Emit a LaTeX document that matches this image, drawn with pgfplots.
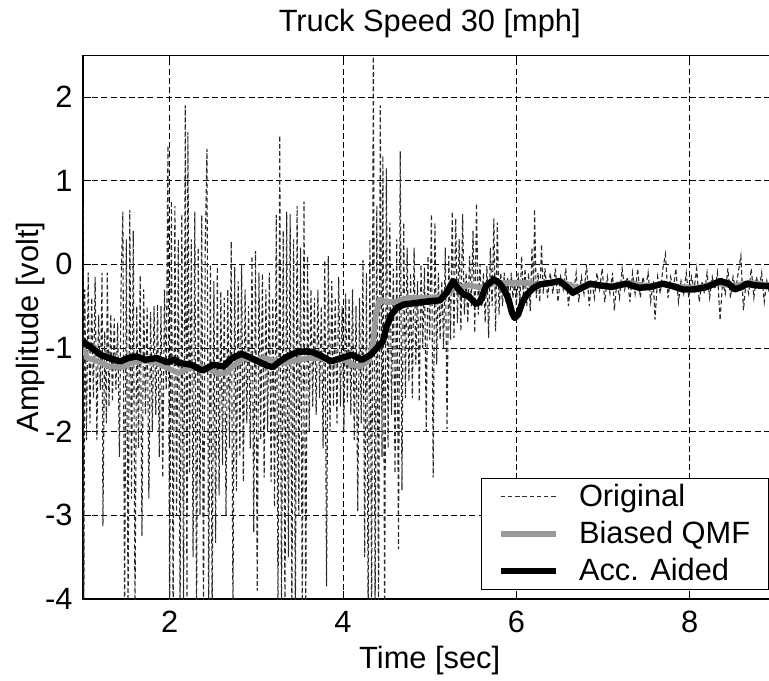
\documentclass[border=0pt]{standalone}
\usepackage{pgfplots}
\pgfplotsset{compat=1.18}
\usepackage{fontspec}
\setmainfont{Liberation Sans}
\definecolor{qmfgray}{HTML}{999999}
\definecolor{origgray}{HTML}{2A2A2A}
\begin{document}
\begin{tikzpicture}
\begin{axis}[
  at={(0,0)}, anchor=south west,
  scale only axis,
  width=346.7pt, height=271.9pt,
  xmin=1, xmax=9, ymin=-4, ymax=2.5,
  xtick={2,4,6,8}, ytick={-4,-3,-2,-1,0,1,2},
  font=\fontsize{15.4}{18}\selectfont,
  /pgf/number format/assume math mode=true,
  tick align=inside, major tick length=4pt,
  tick style={black, line width=0.5pt},
  axis line style={black, line width=0.6pt},
  grid=major,
  major grid style={black, line width=0.5pt, dash pattern=on 3pt off 1.6pt},
  xticklabel style={anchor=base, yshift=-16.5pt},
  yticklabel style={anchor=east, inner sep=0pt, xshift=-5pt},
  every axis title shift=0pt,
  title={Truck Speed 30 [mph]},
  title style={at={(axis description cs:0.5,1.0441)}, anchor=base, inner sep=0pt, yshift=0pt},
  xlabel={Time [sec]},
  xlabel style={at={(axis description cs:0.5,-0.1269)}, anchor=base, inner sep=0pt},
  ylabel={Amplitude [volt]},
  ylabel style={at={(axis description cs:-0.0649,0.5)}, anchor=base, inner sep=0pt},
  legend image code/.code={\draw[#1] (0pt,0pt) -- (27.5pt,0pt);},
  legend cell align=left,
  legend style={at={(0.574,0.0166)}, anchor=south west, draw=black, line width=0.6pt, fill=white,
    inner xsep=8pt, inner ysep=2pt, nodes={inner sep=1pt}, row sep=3.8pt,
    /tikz/every odd column/.append style={column sep=9pt},
    font=\fontsize{15.4}{18}\selectfont},
]
% Original
\addplot[origgray, line width=0.55pt, dash pattern=on 2.2pt off 1.4pt] coordinates {
(1.00,0.70) (1.01,-4.2) (1.02,-0.3) (1.04,-2.1) (1.06,-0.1) (1.08,-1.9) (1.10,-0.4) (1.12,-1.6) (1.14,-0.15) (1.16,-2.1)
(1.18,-0.6) (1.20,-1.5) (1.22,-0.1) (1.23,-3.13) (1.25,-0.8) (1.27,-1.9) (1.28,-0.1) (1.30,-1.7) (1.32,-0.6) (1.34,-1.64)
(1.36,-0.65) (1.38,-1.5) (1.40,-0.7) (1.42,-2.3) (1.44,-0.2) (1.46,0.63) (1.48,-4.2) (1.50,0.3) (1.52,-4.2) (1.54,0.65)
(1.56,-2.8) (1.58,0.40) (1.60,-4.2) (1.62,-0.5) (1.64,-2.2) (1.66,-0.13) (1.68,-3.25) (1.70,-0.3) (1.72,-1.8) (1.74,-0.5)
(1.76,-2.8) (1.78,-0.57) (1.80,-2.0) (1.82,-0.5) (1.84,-1.8) (1.86,-0.48) (1.88,-2.3) (1.90,-0.5) (1.92,-2.55) (1.94,-0.3)
(1.96,-1.5) (1.98,1.42) (2.00,-4.2) (2.02,0.76) (2.04,-4.2) (2.06,0.7) (2.08,-3.0) (2.10,0.3) (2.12,-4.2) (2.14,0.6)
(2.16,-4.2) (2.18,1.9) (2.20,-4.2) (2.21,1.58) (2.23,-2.5) (2.25,0.3) (2.27,-3.5) (2.29,0.63) (2.31,-4.2) (2.33,0.2)
(2.35,-3.0) (2.37,0.59) (2.39,-4.2) (2.41,0.2) (2.43,1.38) (2.45,-4.2) (2.47,0.0) (2.49,-4.2) (2.51,-0.2) (2.53,-3.33)
(2.55,-0.03) (2.57,-2.76) (2.59,-0.32) (2.61,-2.4) (2.63,-0.4) (2.65,-3.0) (2.67,-0.3) (2.69,-2.2) (2.71,0.27) (2.73,-4.2)
(2.75,-0.03) (2.77,-2.71) (2.79,-0.2) (2.81,-2.3) (2.83,0.0) (2.85,-2.6) (2.87,-0.3) (2.89,-1.9) (2.91,-0.5) (2.93,-2.2)
(2.95,0.1) (2.97,-3.2) (2.99,0.16) (3.01,-3.9) (3.03,-0.1) (3.05,-2.1) (3.07,-0.11) (3.09,-2.55) (3.11,-0.3) (3.13,-2.0)
(3.15,-0.1) (3.17,-2.6) (3.19,-0.4) (3.21,-2.9) (3.23,0.59) (3.25,-4.2) (3.27,1.54) (3.29,-4.2) (3.31,0.4) (3.33,-4.2)
(3.35,0.63) (3.37,-3.5) (3.39,0.6) (3.41,-4.2) (3.43,0.3) (3.45,-4.2) (3.47,0.7) (3.49,-3.0) (3.51,0.2) (3.53,-4.2)
(3.55,0.75) (3.57,-4.2) (3.59,0.1) (3.61,-2.0) (3.63,-0.3) (3.65,-1.7) (3.67,-0.4) (3.69,-1.8) (3.71,-0.3) (3.73,-1.6)
(3.75,-0.5) (3.77,-2.2) (3.79,0.05) (3.81,-3.85) (3.83,0.1) (3.85,-2.0) (3.87,-0.2) (3.89,-1.7) (3.91,-0.4) (3.93,-1.9)
(3.95,-0.15) (3.97,-1.7) (3.99,-0.5) (4.01,-2.0) (4.03,-0.35) (4.05,-1.65) (4.07,-0.4) (4.09,-1.8) (4.11,-0.3) (4.13,-2.1)
(4.15,-0.5) (4.17,-2.95) (4.19,-0.4) (4.21,-1.9) (4.23,0.05) (4.25,-3.5) (4.27,-0.1) (4.29,-4.2) (4.31,0.3) (4.33,-4.2)
(4.35,2.7) (4.37,-4.2) (4.39,0.7) (4.41,-4.2) (4.43,1.9) (4.45,-2.3) (4.46,1.3) (4.48,-4.2) (4.50,1.15) (4.52,-2.2)
(4.54,0.5) (4.56,-1.8) (4.58,-0.05) (4.60,-2.5) (4.62,0.3) (4.64,-3.4) (4.66,1.35) (4.68,-2.7) (4.70,0.5) (4.72,-1.6)
(4.74,0.2) (4.76,-1.4) (4.78,-0.1) (4.80,-1.6) (4.82,0.2) (4.84,-1.2) (4.86,-0.2) (4.88,-1.64) (4.90,0.0) (4.92,-1.0)
(4.94,-0.04) (4.96,-2.0) (4.98,0.1) (5.00,-0.9) (5.02,0.6) (5.04,-2.55) (5.06,0.5) (5.08,-1.2) (5.10,-0.1) (5.12,-0.9)
(5.14,-0.2) (5.16,-1.0) (5.18,0.2) (5.20,-1.97) (5.22,0.1) (5.24,-0.9) (5.26,0.63) (5.28,-0.88) (5.30,0.55) (5.32,-0.7)
(5.34,0.3) (5.36,-0.8) (5.38,0.6) (5.40,-0.6) (5.42,-0.1) (5.44,-0.7) (5.46,0.1) (5.48,-0.5) (5.50,0.4) (5.52,-0.82)
(5.54,0.73) (5.56,-0.6) (5.58,0.0) (5.60,-0.5) (5.62,-0.1) (5.64,-0.7) (5.66,-0.02) (5.68,-0.88) (5.70,0.2) (5.72,-0.5)
(5.74,0.55) (5.76,-0.8) (5.78,0.5) (5.80,-0.6) (5.82,-0.1) (5.84,-0.5) (5.86,-0.1) (5.88,-0.45) (5.90,-0.15) (5.92,-0.5)
(5.94,-0.1) (5.96,-0.4) (5.98,-0.2) (6.00,-0.5) (6.02,-0.1) (6.04,-0.45) (6.06,0.1) (6.08,-0.4) (6.10,-0.05) (6.12,-0.5)
(6.14,-0.1) (6.16,-0.56) (6.18,0.2) (6.20,-0.3) (6.21,0.66) (6.23,-0.4) (6.25,-0.1) (6.27,-0.45) (6.29,0.24) (6.31,-0.35)
(6.33,-0.05) (6.36,-0.4) (6.39,-0.1) (6.42,-0.35) (6.45,-0.05) (6.48,-0.45) (6.51,-0.15) (6.54,-0.3) (6.57,-0.05) (6.60,-0.5)
(6.63,-0.2) (6.66,-0.35) (6.69,-0.1) (6.72,-0.45) (6.75,-0.15) (6.78,-0.35) (6.81,0.0) (6.84,-0.5) (6.87,-0.2) (6.90,-0.4)
(6.93,-0.1) (6.96,-0.3) (6.99,-0.05) (7.02,-0.45) (7.05,-0.15) (7.08,-0.35) (7.11,-0.1) (7.13,-0.55) (7.16,-0.2) (7.19,-0.4)
(7.22,-0.05) (7.25,-0.3) (7.28,-0.15) (7.31,-0.45) (7.34,-0.1) (7.37,-0.35) (7.40,-0.05) (7.43,-0.4) (7.46,-0.15) (7.49,-0.3)
(7.52,-0.1) (7.55,-0.45) (7.58,-0.2) (7.60,-0.66) (7.63,-0.15) (7.66,-0.35) (7.69,-0.05) (7.72,0.12) (7.75,-0.4) (7.78,-0.15)
(7.81,-0.3) (7.84,-0.05) (7.87,-0.45) (7.90,-0.2) (7.93,-0.35) (7.96,-0.1) (7.99,-0.4) (8.02,-0.15) (8.05,-0.3) (8.08,-0.05)
(8.11,-0.45) (8.14,-0.2) (8.17,-0.35) (8.20,-0.1) (8.23,-0.4) (8.26,-0.15) (8.29,-0.3) (8.32,-0.1) (8.35,-0.67) (8.38,-0.2)
(8.41,-0.35) (8.44,-0.05) (8.47,-0.4) (8.50,-0.15) (8.53,-0.3) (8.56,-0.1) (8.59,0.1) (8.62,-0.55) (8.65,-0.2) (8.68,-0.35)
(8.71,-0.05) (8.74,-0.4) (8.77,-0.15) (8.80,-0.3) (8.83,-0.1) (8.86,-0.45) (8.89,-0.2) (8.92,-0.35) (8.95,-0.1) (8.98,-0.3)
};
\addlegendentry{Original}
% Biased QMF
\addplot[qmfgray, line width=2.8pt, line join=round] coordinates {
(1.00,-1.0) (1.05,-1.12) (1.15,-1.15) (1.30,-1.22) (1.45,-1.23) (1.55,-1.18) (1.70,-1.15) (1.85,-1.18) (2.00,-1.25) (2.10,-1.30)
(2.20,-1.25) (2.35,-1.22) (2.45,-1.25) (2.55,-1.30) (2.65,-1.30) (2.75,-1.20) (2.85,-1.12) (3.00,-1.14) (3.10,-1.12) (3.20,-1.15)
(3.30,-1.18) (3.45,-1.15) (3.60,-1.12) (3.75,-1.12) (3.90,-1.15) (4.00,-1.12) (4.10,-1.20) (4.20,-1.22) (4.30,-1.15) (4.35,-0.90)
(4.38,-0.60) (4.42,-0.42) (4.50,-0.45) (4.60,-0.45) (4.75,-0.40) (5.00,-0.40) (5.15,-0.38) (5.30,-0.28) (5.45,-0.25) (5.60,-0.28)
(5.75,-0.22) (5.90,-0.22) (6.10,-0.22) (6.30,-0.24) (6.50,-0.20) (6.70,-0.28) (6.90,-0.24) (7.10,-0.26) (7.30,-0.22) (7.50,-0.26)
(7.70,-0.24) (7.90,-0.27) (8.10,-0.28) (8.30,-0.22) (8.50,-0.26) (8.70,-0.22) (8.90,-0.25) (9.00,-0.25)
};
\addlegendentry{Biased QMF}
% Acc. Aided
\addplot[black, line width=3.2pt, line join=round] coordinates {
(1.00,-0.92) (1.10,-1.00) (1.20,-1.08) (1.30,-1.12) (1.43,-1.16) (1.52,-1.12) (1.62,-1.10) (1.72,-1.14) (1.85,-1.12) (1.97,-1.17)
(2.05,-1.14) (2.12,-1.18) (2.25,-1.20) (2.38,-1.27) (2.50,-1.20) (2.62,-1.22) (2.72,-1.12) (2.83,-1.07) (2.90,-1.10) (3.00,-1.15)
(3.10,-1.20) (3.19,-1.23) (3.27,-1.16) (3.36,-1.10) (3.47,-1.05) (3.55,-1.04) (3.65,-1.05) (3.76,-1.10) (3.86,-1.16) (3.98,-1.12)
(4.10,-1.08) (4.22,-1.14) (4.32,-1.08) (4.39,-1.00) (4.46,-0.92) (4.50,-0.75) (4.56,-0.60) (4.62,-0.52) (4.70,-0.48) (4.85,-0.46)
(5.00,-0.44) (5.12,-0.43) (5.20,-0.33) (5.27,-0.20) (5.32,-0.28) (5.39,-0.36) (5.45,-0.38) (5.53,-0.47) (5.58,-0.45) (5.65,-0.26)
(5.74,-0.18) (5.80,-0.22) (5.86,-0.30) (5.91,-0.42) (5.95,-0.58) (5.98,-0.64) (6.02,-0.60) (6.07,-0.45) (6.12,-0.36) (6.20,-0.28)
(6.27,-0.24) (6.40,-0.22) (6.50,-0.20) (6.58,-0.27) (6.65,-0.34) (6.72,-0.30) (6.85,-0.23) (6.95,-0.25) (7.10,-0.27) (7.27,-0.23)
(7.35,-0.26) (7.42,-0.28) (7.55,-0.27) (7.69,-0.23) (7.80,-0.26) (7.92,-0.30) (8.05,-0.30) (8.20,-0.27) (8.35,-0.20) (8.45,-0.23)
(8.52,-0.30) (8.60,-0.27) (8.66,-0.23) (8.75,-0.25) (8.89,-0.26) (9.00,-0.25)
};
\addlegendentry{Acc. Aided}
\end{axis}
\pgfresetboundingbox
\useasboundingbox (-41.5pt,-40.5pt) rectangle (343pt,299.5pt);
\end{tikzpicture}
\end{document}
